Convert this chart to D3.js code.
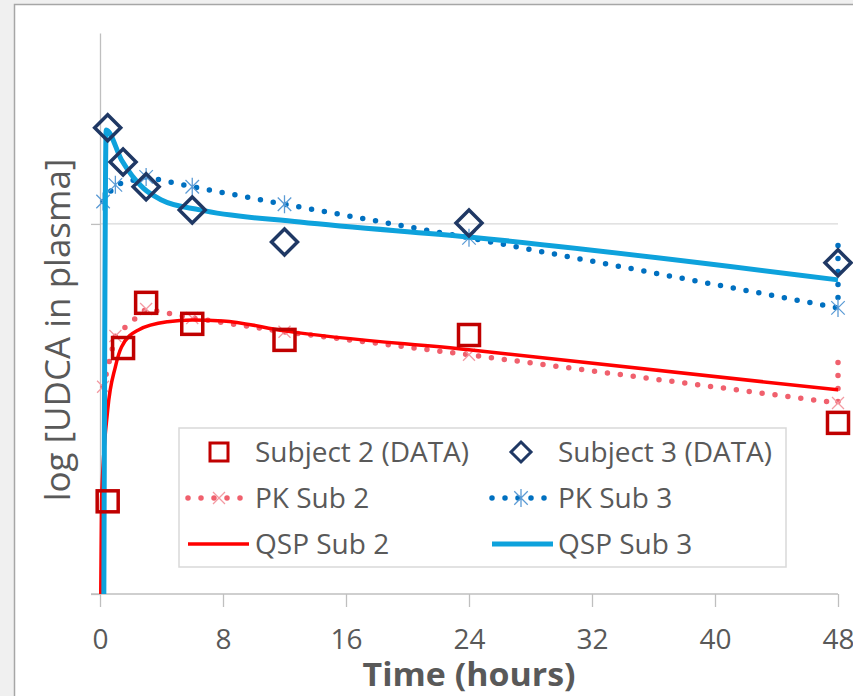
<!DOCTYPE html>
<html>
<head>
<meta charset="utf-8">
<script src="https://cdn.jsdelivr.net/npm/d3@7"></script>
<style>
  body { margin: 0; background: #f0f0f0; }
  text { font-family: "Open Sans", sans-serif; fill: #595959; }
</style>
</head>
<body>
<div id="chart"></div>
<script>
// data (hours, concentration in arbitrary log units)
const dataTimes = [0.5, 1.5, 3, 6, 12, 24, 48];
const sub2Data = [1.78, 4.62, 6.12, 5.37, 4.86, 5.01, 2.90];
const sub3Data = [18.2, 14.7, 12.6, 10.9, 8.94, 10.06, 7.85];

const pkTimes = [0.2, 1, 3, 6, 12, 24, 48];
const pkSub2 = [3.63, 4.98, 5.89, 5.57, 5.11, 4.43, 3.28];
const pkSub3 = [11.5, 12.75, 13.4, 12.6, 11.3, 9.17, 5.93];
// the PK curves jump back up at the very end (next dose)
const pkTailSub2 = 4.57;
const pkTailSub3 = 9.46;

const qspSub2Times = [0.05, 0.1, 0.5, 1, 1.4, 2.5, 4.4, 6, 8, 12, 24, 48];
const qspSub2 = [1.0, 1.79, 3.14, 4.11, 4.65, 5.17, 5.44, 5.50, 5.47, 5.14, 4.57, 3.56];
const qspSub3Times = [0.25, 0.4, 1.4, 2.8, 4, 6.5, 13, 24, 48];
const qspSub3 = [1.0, 17.95, 14.89, 12.51, 11.61, 10.91, 10.12, 9.22, 7.06];

const xTicks = [0, 8, 16, 24, 32, 40, 48];
const yTicks = [1, 10];
const yMax = 32.8;
const legendLabels = ["Subject 2 (DATA)", "Subject 3 (DATA)", "PK Sub 2", "PK Sub 3", "QSP Sub 2", "QSP Sub 3"];

// colours
const c2data = "#c00000", c3data = "#1f3864";
const cPk2 = "#f0606d", cPk2m = "#f39aa2";
const cPk3 = "#0070c0", cPk3m = "#5b9bd5";
const cQsp2 = "#ff0000", cQsp3 = "#0ea2dc";

const width = 853, height = 696;
const svg = d3.select("#chart").append("svg")
  .attr("width", width)
  .attr("height", height);

// chart frame
svg.append("rect").attr("width", width).attr("height", height).attr("fill", "#f0f0f0");
svg.append("rect")
  .attr("x", 14.5).attr("y", 4.5)
  .attr("width", width).attr("height", height)
  .attr("fill", "#fff")
  .attr("stroke", "#a6a6a6")
  .attr("stroke-width", 1.5);

let x = d3.scaleLinear().domain([0, 48]).range([100, 838]);
let y = d3.scaleLog().domain([1, yMax]).range([594, 33]);

// gridline
svg.append("line")
  .attr("x1", x(0)).attr("x2", x(48))
  .attr("y1", y(10)).attr("y2", y(10))
  .attr("stroke", "#d9d9d9").attr("stroke-width", 1.3);

// y axis
let yAxis = svg.append("g")
  .attr("transform", "translate(" + x(0) + ",0)")
  .call(d3.axisLeft(y).tickValues(yTicks).tickFormat("").tickSize(9).tickSizeOuter(0));
yAxis.selectAll("path, line").attr("stroke", "#bfbfbf").attr("stroke-width", 1.3);

// x axis
let xAxis = svg.append("g")
  .attr("transform", "translate(0," + y(1) + ")")
  .call(d3.axisBottom(x).tickValues(xTicks).tickSize(13).tickSizeOuter(0).tickPadding(22));
xAxis.select(".domain").attr("d", "M" + (x(0) - 9) + ",0H" + x(48));
xAxis.selectAll("path, line").attr("stroke", "#bfbfbf").attr("stroke-width", 1.3);
xAxis.selectAll("text")
  .style("font-family", "'Open Sans', sans-serif")
  .style("font-size", "28px")
  .attr("fill", "#595959");

// axis titles
svg.append("text")
  .attr("x", 469).attr("y", 686)
  .attr("text-anchor", "middle")
  .attr("textLength", 213)
  .attr("lengthAdjust", "spacingAndGlyphs")
  .style("font-size", "32px")
  .style("font-weight", "bold")
  .text("Time (hours)");

svg.append("text")
  .attr("transform", "translate(70,330) rotate(-90)")
  .attr("text-anchor", "middle")
  .style("font-size", "35px")
  .text("log [UDCA in plasma]");

// lines
const linePath = d3.line().x(d => x(d[0])).y(d => y(d[1]));
const smoothPath = d3.line().x(d => x(d[0])).y(d => y(d[1])).curve(d3.curveMonotoneX);

const pk2Pts = pkTimes.map((t, i) => [t, pkSub2[i]]).concat([[48, pkTailSub2]]);
const pk3Pts = pkTimes.map((t, i) => [t, pkSub3[i]]).concat([[48, pkTailSub3]]);

svg.append("path").datum(pk2Pts)
  .attr("d", linePath).attr("fill", "none")
  .attr("stroke", cPk2).attr("stroke-width", 5.5)
  .attr("stroke-linecap", "round").attr("stroke-dasharray", "0 13");

svg.append("path").datum(pk3Pts)
  .attr("d", linePath).attr("fill", "none")
  .attr("stroke", cPk3).attr("stroke-width", 5.5)
  .attr("stroke-linecap", "round").attr("stroke-dasharray", "0 13");

// PK markers
function crossPath(cx, cy, r) {
  return "M" + (cx - r) + "," + (cy - r) + "L" + (cx + r) + "," + (cy + r) +
         "M" + (cx - r) + "," + (cy + r) + "L" + (cx + r) + "," + (cy - r);
}
function starPath(cx, cy, r) {
  return crossPath(cx, cy, r * 0.75) + "M" + cx + "," + (cy - r) + "L" + cx + "," + (cy + r);
}

svg.selectAll(".pk2m")
  .data(pkTimes.map((t, i) => [t, pkSub2[i]]))
  .enter().append("path")
  .attr("d", d => crossPath(x(d[0]), y(d[1]), 6))
  .attr("stroke", cPk2m).attr("stroke-width", 1.3).attr("fill", "none");

svg.selectAll(".pk3m")
  .data(pkTimes.map((t, i) => [t, pkSub3[i]]))
  .enter().append("path")
  .attr("d", d => starPath(x(d[0]), y(d[1]), 9))
  .attr("stroke", cPk3m).attr("stroke-width", 1.3).attr("fill", "none");

svg.append("path").datum(qspSub2Times.map((t, i) => [t, qspSub2[i]]))
  .attr("d", smoothPath).attr("fill", "none")
  .attr("stroke", cQsp2).attr("stroke-width", 3.5);

svg.append("path").datum(qspSub3Times.map((t, i) => [t, qspSub3[i]]))
  .attr("d", smoothPath).attr("fill", "none")
  .attr("stroke", cQsp3).attr("stroke-width", 5);

// data markers
function diamondPath(cx, cy, r) {
  return "M" + cx + "," + (cy - r) + "L" + (cx + r) + "," + cy +
         "L" + cx + "," + (cy + r) + "L" + (cx - r) + "," + cy + "Z";
}

svg.selectAll(".sq")
  .data(dataTimes.map((t, i) => [t, sub2Data[i]]))
  .enter().append("rect")
  .attr("x", d => x(d[0]) - 10.5)
  .attr("y", d => y(d[1]) - 10.5)
  .attr("width", 21).attr("height", 21)
  .attr("fill", "none").attr("stroke", c2data).attr("stroke-width", 3.5);

svg.selectAll(".dm")
  .data(dataTimes.map((t, i) => [t, sub3Data[i]]))
  .enter().append("path")
  .attr("d", d => diamondPath(x(d[0]), y(d[1]), 13))
  .attr("fill", "none").attr("stroke", c3data).attr("stroke-width", 3.5)
  .attr("stroke-linejoin", "miter");

// legend
const lg = svg.append("g");
lg.append("rect")
  .attr("x", 179).attr("y", 428)
  .attr("width", 607).attr("height", 139)
  .attr("fill", "#fff").attr("stroke", "#d9d9d9").attr("stroke-width", 1.5);

const rowY = [452, 498, 544];
const colMark = [219, 521], colLine = [[188, 249], [492, 553]], colText = [255, 558];

// row 1: data markers
lg.append("rect")
  .attr("x", colMark[0] - 9).attr("y", rowY[0] - 9)
  .attr("width", 18).attr("height", 18)
  .attr("fill", "none").attr("stroke", c2data).attr("stroke-width", 3);
lg.append("path")
  .attr("d", diamondPath(colMark[1], rowY[0], 10))
  .attr("fill", "none").attr("stroke", c3data).attr("stroke-width", 3);

// row 2: PK samples
[[cPk2, cPk2m, crossPath, 6], [cPk3, cPk3m, starPath, 9]].forEach((s, i) => {
  lg.append("path")
    .attr("d", "M" + colLine[i][0] + "," + rowY[1] + "H" + colLine[i][1])
    .attr("stroke", s[0]).attr("stroke-width", 5.5)
    .attr("stroke-linecap", "round").attr("stroke-dasharray", "0 13");
  lg.append("path")
    .attr("d", s[2](colMark[i], rowY[1], s[3]))
    .attr("stroke", s[1]).attr("stroke-width", 1.3).attr("fill", "none");
});

// row 3: QSP samples
[[cQsp2, 3.5], [cQsp3, 5]].forEach((s, i) => {
  lg.append("path")
    .attr("d", "M" + colLine[i][0] + "," + rowY[2] + "H" + colLine[i][1])
    .attr("stroke", s[0]).attr("stroke-width", s[1]);
});

legendLabels.forEach((lab, i) => {
  lg.append("text")
    .attr("x", colText[i % 2])
    .attr("y", rowY[Math.floor(i / 2)])
    .attr("dy", "0.35em")
    .style("font-size", "28px")
    .text(lab);
});
</script>
</body>
</html>
